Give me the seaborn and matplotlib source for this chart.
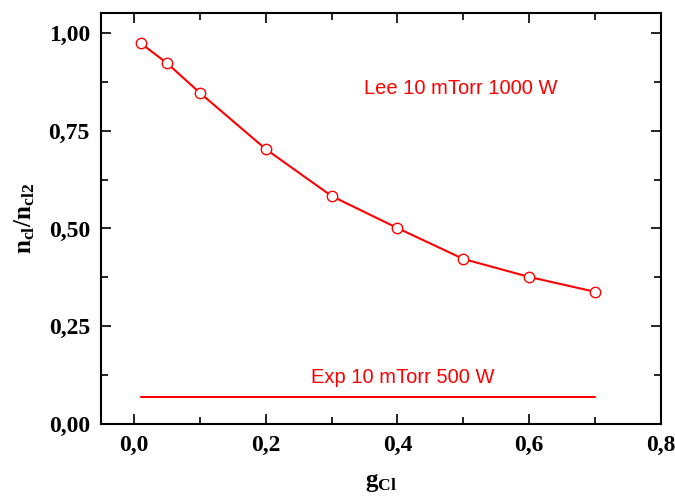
import numpy as np
import pandas as pd
import matplotlib
matplotlib.use("Agg")
import matplotlib.pyplot as plt
from matplotlib.ticker import MultipleLocator, FuncFormatter
import seaborn as sns

# data
g_cl = [0.01, 0.05, 0.1, 0.2, 0.3, 0.4, 0.5, 0.6, 0.7]
ratio_lee = [0.974, 0.923, 0.847, 0.703, 0.583, 0.501, 0.422, 0.376, 0.338]
exp_x = [0.01, 0.7]
exp_y = [0.069, 0.069]

sns.set_style("ticks", {"axes.edgecolor": "black", "text.color": "black",
                        "xtick.color": "black", "ytick.color": "black",
                        "axes.labelcolor": "black"})
plt.rcParams['font.family'] = ['Liberation Serif', 'DejaVu Serif']
plt.rcParams['mathtext.fontset'] = 'custom'
plt.rcParams['mathtext.rm'] = 'Liberation Serif:bold'
plt.rcParams['mathtext.it'] = 'Liberation Serif:bold'
plt.rcParams['mathtext.bf'] = 'Liberation Serif:bold'

fig = plt.figure(figsize=(6.75, 4.99), dpi=100)
ax = fig.add_axes([101 / 675, 75 / 499, 560 / 675, 411 / 499])

lee = pd.DataFrame({"g": g_cl, "ratio": ratio_lee})
sns.lineplot(data=lee, x="g", y="ratio", ax=ax, color="red", linewidth=1.5,
             marker="o", markersize=7.5, markerfacecolor="white",
             markeredgecolor="red", markeredgewidth=1)
sns.lineplot(x=exp_x, y=exp_y, ax=ax, color="red", linewidth=1.5)

ax.set_xlim(-0.05, 0.8)
ax.set_ylim(0, 1.051)
ax.xaxis.set_major_locator(MultipleLocator(0.2))
ax.xaxis.set_minor_locator(MultipleLocator(0.1))
ax.yaxis.set_major_locator(MultipleLocator(0.25))
ax.yaxis.set_minor_locator(MultipleLocator(0.125))
ax.xaxis.set_major_formatter(FuncFormatter(lambda v, p: f"{v:.1f}".replace(".", ",")))
ax.yaxis.set_major_formatter(FuncFormatter(lambda v, p: f"{v:.2f}".replace(".", ",")))
ax.tick_params(which="both", direction="in", top=True, right=True, width=1.2,
               colors="black")
ax.tick_params(which="major", length=7, labelsize=17, pad=8)
ax.tick_params(which="minor", length=5)
for lbl in ax.get_xticklabels() + ax.get_yticklabels():
    lbl.set_fontweight("bold")
for s in ax.spines.values():
    s.set_linewidth(1.5)
    s.set_color("black")

ax.set_xlabel(r"$\mathregular{g_{Cl}}$", fontsize=18, fontweight="bold", labelpad=11)
ax.set_ylabel(r"$\mathregular{n_{cl}/n_{cl2}}$", fontsize=18, fontweight="bold", labelpad=8)

ax.text(0.496, 0.859, "Lee 10 mTorr 1000 W", color="red", fontsize=14.5,
        family="Liberation Sans", ha="center", va="center")
ax.text(0.408, 0.118, "Exp 10 mTorr 500 W", color="red", fontsize=14.5,
        family="Liberation Sans", ha="center", va="center")

fig.savefig("out.png", dpi=100)
